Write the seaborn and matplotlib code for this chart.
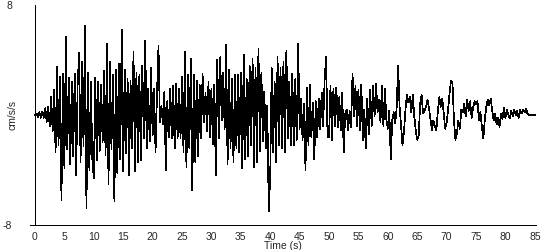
import numpy as np
import pandas as pd
import matplotlib
matplotlib.use("Agg")
import matplotlib.pyplot as plt
import seaborn as sns

# Acceleration trace (cm/s/s), one row per 5 seconds, samples every 0.25 s
sample_step_s = 0.25
accel_00_05 = [0.0, 0.1, -0.15, 0.2, -0.2, 0.25, -0.2, 0.5, -0.5, 0.6, -0.8, 1.3, -1.2, 1.8, -2.7, 3.5, -2.2, 2.8, -6.2, 3.0]
accel_05_10 = [-3.9, 5.7, -2.5, 2.7, -3.6, 2.4, -3.0, 3.0, -4.4, 2.2, 4.5, -3.4, 3.9, -2.3, 6.5, -6.8, 3.1, -4.0, 2.4, -3.2]
accel_10_15 = [-4.6, 2.7, -3.3, 2.4, -2.6, 2.2, -2.0, 3.2, -2.9, 5.2, -5.0, 3.9, -2.5, 2.9, -6.3, 3.3, -4.2, 3.7, -3.2, 6.2]
accel_15_20 = [-4.1, 3.3, -2.8, 2.6, -4.4, 2.5, -2.4, 4.6, -4.1, 3.1, -3.4, 2.9, -3.3, 3.6, -1.7, 5.4, -2.4, 1.9, -1.9, 3.4]
accel_20_25 = [-1.5, 1.9, -2.7, 1.6, 5.0, -0.5, 0.7, -0.7, 1.7, -4.0, 1.0, -1.6, 1.9, -1.7, 2.1, -2.4, 2.3, -1.7, 1.9, -1.7]
accel_25_30 = [2.8, -2.7, 4.6, -3.8, 2.9, -2.4, 4.1, -5.5, 2.9, -3.4, 2.5, -3.0, 2.2, -1.7, 3.0, -0.5, 1.6, -1.2, 2.4, -1.6]
accel_30_35 = [1.9, -2.1, 2.2, -4.4, 4.0, -1.7, 4.2, -0.4, 3.1, -1.0, 5.1, -3.6, 3.3, -2.4, 2.6, -3.4, 2.9, -2.4, 2.9, -2.7]
accel_35_40 = [3.1, -3.9, 4.4, -3.2, 2.6, -3.0, 3.6, -2.2, 4.1, -3.8, 3.4, -3.4, 4.8, -2.6, 3.1, -1.9, 1.7, -2.4, 0.7, -7.0]
accel_40_45 = [-4.5, 3.4, -2.7, 2.4, -3.4, 4.2, -2.2, 3.4, -2.4, 3.9, -2.7, 4.7, -1.7, 2.4, -2.2, 3.0, -2.2, 2.6, -1.8, 5.2]
accel_45_50 = [-1.0, 1.2, -1.8, 0.8, -4.0, 2.0, -2.2, 2.2, -1.6, 0.9, -3.2, 1.0, -1.6, 1.2, -1.0, 1.6, -0.8, 2.5, 4.2, -1.6]
accel_50_55 = [-1.6, 2.1, -1.8, 1.9, -0.8, 2.0, -0.9, 1.3, -1.1, 1.6, -2.7, 0.1, 0.4, -1.1, 0.3, -0.9, 3.0, -0.1, 2.1, -0.8]
accel_55_60 = [1.8, -1.1, 2.2, -1.8, 0.4, -2.4, 1.2, -1.4, 1.8, -0.8, 2.1, -0.1, 2.3, 0.2, 1.1, -0.5, 2.1, -0.8, 1.9, -0.3]
accel_60_65 = [-1.0, 0.3, -3.2, -0.4, 0.2, -0.6, 0.5, 3.6, 0.6, -0.8, -2.2, -1.2, 0.4, 1.5, 0.9, 1.3, 0.2, 1.45, -0.1, -1.1]
accel_65_70 = [-1.8, -1.5, 0.8, 1.45, 0.1, 0.3, 0.6, 1.1, 0.5, -0.3, -1.1, -0.4, -0.8, -1.1, 0.2, 1.3, 0.6, 1.2, 0.2, -1.0]
accel_70_75 = [-0.6, 0.4, 1.6, 2.5, 2.3, -0.4, -1.8, -1.3, -0.4, -1.0, 0.4, 0.2, 0.8, -0.1, 1.1, 0.3, 1.0, -0.2, 0.5, 1.0]
accel_75_80 = [0.8, 1.0, -0.4, 0.2, -0.85, -1.7, -0.3, 0.6, 1.1, 0.7, 1.2, 0.3, -0.4, 0.1, -0.7, -0.2, -0.85, 0.1, -0.3, 0.5]
accel_80_85 = [-0.2, 0.4, 0.0, -0.25, 0.3, -0.1, 0.4, 0.0, 0.3, -0.2, 0.35, 0.1, 0.4, 0.2, 0.45, 0.1, 0.0, 0.0, 0.0, 0.0]
accel_85 = [0.0]

x_ticks = [0, 5, 10, 15, 20, 25, 30, 35, 40, 45, 50, 55, 60, 65, 70, 75, 80, 85]
y_ticks = [-8, 8]

accel = (accel_00_05 + accel_05_10 + accel_10_15 + accel_15_20 + accel_20_25 + accel_25_30
         + accel_30_35 + accel_35_40 + accel_40_45 + accel_45_50 + accel_50_55 + accel_55_60
         + accel_60_65 + accel_65_70 + accel_70_75 + accel_75_80 + accel_80_85 + accel_85)
time_s = np.arange(len(accel)) * sample_step_s
df = pd.DataFrame({"time": time_s, "accel": accel})

sns.set_style("white")
plt.rcParams["font.family"] = ["Liberation Sans", "DejaVu Sans"]

thin = 0.5

fig = plt.figure(figsize=(5.5, 2.5), dpi=100)
ax = fig.add_axes([30 / 550, 25 / 250, 506 / 550, 220 / 250])

sns.lineplot(data=df, x="time", y="accel", ax=ax, color="black", linewidth=thin,
             estimator=None, sort=False, antialiased=False)

ax.set_xlim(-0.85, 85.2)
ax.set_ylim(-8, 8)
ax.spines["left"].set_position(("data", 0))
ax.spines["top"].set_visible(False)
ax.spines["right"].set_visible(False)
for s in ("left", "bottom"):
    ax.spines[s].set_color("black")
    ax.spines[s].set_linewidth(thin)
    ax.spines[s].set_antialiased(False)

ax.set_xticks(x_ticks)
ax.set_xticklabels([str(v) for v in x_ticks], fontsize=7.5)
ax.tick_params(axis="x", direction="out", length=4, width=thin, color="black", pad=1.0)
ax.set_yticks(y_ticks)
ax.set_yticklabels([str(v) for v in y_ticks], fontsize=7.5)
ax.tick_params(axis="y", length=0, pad=16.5)

ax.set_xlabel("Time (s)", fontsize=7.5, labelpad=-1)
ax.set_ylabel("cm/s/s", fontsize=7.5)
ax.yaxis.set_label_coords(-0.024, 0.5)
ax.grid(False)

fig.savefig("out.png", dpi=100)
